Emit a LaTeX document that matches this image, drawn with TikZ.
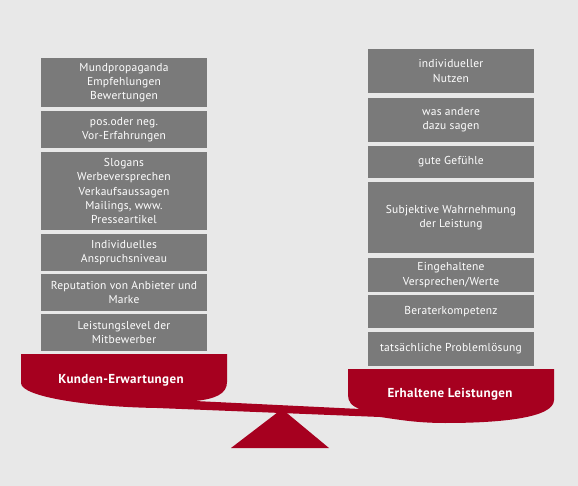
\documentclass[tikz,border=0pt]{standalone}
\usepackage{fontspec}
\setmainfont{PT Sans}
\setsansfont{PT Sans}
\definecolor{bg}{HTML}{E8E8E8}
\definecolor{boxgray}{HTML}{7A7A7A}
\definecolor{panred}{HTML}{A6001F}
\tikzset{
  item/.style={fill=boxgray, text=white, minimum width=166pt, inner sep=0pt,
    align=center, font=\fontsize{11.5}{14.2}\selectfont\addfontfeatures{LetterSpace=2}},
  panlabel/.style={text=white, font=\bfseries\fontsize{13}{15}\selectfont\addfontfeatures{LetterSpace=3}},
  redshape/.style={fill=panred, draw=none}
}
\begin{document}
\begin{tikzpicture}[x=1pt,y=-1pt]
\fill[bg] (0,0) rectangle (578,486);
\useasboundingbox (0,0) rectangle (578,486);
% left stack
\node[item, minimum height=49pt] (l1) at (124,82.5) {Mundpropaganda\\Empfehlungen\\Bewertungen};
\node[item, minimum height=37pt] (l2) at (124,129.5) {pos.oder neg.\\Vor-Erfahrungen};
\node[item, minimum height=78pt] (l3) at (124,191) {Slogans\\Werbeversprechen\\Verkaufsaussagen\\Mailings, www.\\Presseartikel};
\node[item, minimum height=37pt] (l4) at (124,252.5) {Individuelles\\Anspruchsniveau};
\node[item, minimum height=37pt] (l5) at (124,292.5) {Reputation von Anbieter und\\Marke};
\node[item, minimum height=37pt] (l6) at (124,332.5) {Leistungslevel der\\Mitbewerber};
% right stack
\node[item, minimum height=44pt] (r1) at (451,71) {individueller\\Nutzen};
\node[item, minimum height=44pt] (r2) at (451,120) {was andere\\dazu sagen};
\node[item, minimum height=32pt] (r3) at (451,162) {gute Gefühle};
\node[item, minimum height=71pt] (r4) at (451,217.5) {Subjektive Wahrnehmung\\der Leistung};
\node[item, minimum height=34pt] (r5) at (451,275) {Eingehaltene\\Versprechen/Werte};
\node[item, minimum height=33pt] (r6) at (451,311.5) {Beraterkompetenz};
\node[item, minimum height=34pt] (r7) at (451,349) {tatsächliche Problemlösung};
% balance
\fill[redshape] (231,448) -- (329,448) -- (282,409) -- cycle;
\fill[redshape] (21,354) -- (227,354) -- (227,382)
  .. controls (227,394) and (215,399) .. (195,401)
  -- (360,409)
  .. controls (351,406) and (348,401) .. (348,395)
  -- (348,369) -- (554,369) -- (554,400)
  .. controls (554,418) and (500,423) .. (445,423)
  .. controls (415,423) and (395,419) .. (380,417)
  -- (157,408)
  .. controls (90,407) and (21,397) .. (21,383) -- cycle;
\node[panlabel] (kunden) at (121,380) {Kunden-Erwartungen};
\node[panlabel] (erhalten) at (450,394) {Erhaltene Leistungen};
\end{tikzpicture}
\end{document}
